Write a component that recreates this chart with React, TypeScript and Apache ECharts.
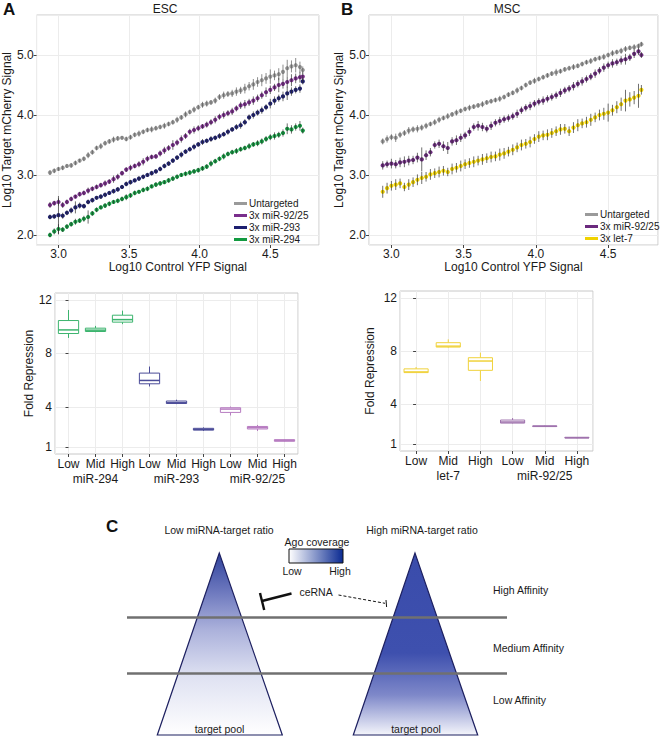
import React, { useEffect, useRef } from "react";
import * as echarts from "echarts";

const FONT = "'Liberation Sans Narrow', 'Arial Narrow', 'Liberation Sans', Arial, sans-serif";
const FONT_BOLD = "'Liberation Sans', Arial, sans-serif";

// ---------- Data: reporter scatter (log10 control YFP vs log10 target mCherry) ----------
const xVals = [
  2.94, 2.97, 3.0, 3.03, 3.06, 3.09, 3.12, 3.15, 3.18, 3.21,
  3.24, 3.27, 3.3, 3.33, 3.36, 3.39, 3.42, 3.45, 3.48, 3.51,
  3.54, 3.57, 3.6, 3.63, 3.66, 3.69, 3.72, 3.75, 3.78, 3.81,
  3.84, 3.87, 3.9, 3.93, 3.96, 3.99, 4.02, 4.05, 4.08, 4.11,
  4.14, 4.17, 4.2, 4.23, 4.26, 4.29, 4.32, 4.35, 4.38, 4.41,
  4.44, 4.47, 4.5, 4.53, 4.56, 4.59, 4.62, 4.65, 4.68, 4.71, 4.73,
];

// ESC
const escUntargeted = [
  3.04, 3.07, 3.1, 3.12, 3.15, 3.16, 3.2, 3.24, 3.27, 3.33,
  3.38, 3.45, 3.48, 3.53, 3.56, 3.59, 3.61, 3.62, 3.6, 3.63,
  3.67, 3.69, 3.72, 3.75, 3.76, 3.78, 3.8, 3.82, 3.85, 3.88,
  3.92, 3.96, 4.01, 4.05, 4.09, 4.13, 4.17, 4.19, 4.21, 4.24,
  4.3, 4.33, 4.35, 4.36, 4.39, 4.41, 4.44, 4.48, 4.51, 4.55,
  4.58, 4.61, 4.64, 4.66, 4.68, 4.72, 4.78, 4.81, 4.83, 4.8, 4.75,
];
const escUntargetedErr = [
  0.04, 0.04, 0.03, 0.04, 0.03, 0.04, 0.04, 0.03, 0.04, 0.05,
  0.04, 0.04, 0.05, 0.04, 0.04, 0.05, 0.04, 0.03, 0.04, 0.04,
  0.04, 0.05, 0.04, 0.04, 0.05, 0.04, 0.04, 0.05, 0.04, 0.04,
  0.05, 0.04, 0.05, 0.04, 0.05, 0.04, 0.05, 0.05, 0.04, 0.05,
  0.05, 0.06, 0.05, 0.06, 0.07, 0.06, 0.08, 0.07, 0.09, 0.08,
  0.1, 0.09, 0.12, 0.08, 0.1, 0.12, 0.14, 0.1, 0.12, 0.09, 0.06,
];
const escMir9225 = [
  2.5, 2.53, 2.55, 2.5, 2.55, 2.6, 2.64, 2.68, 2.7, 2.74,
  2.77, 2.8, 2.83, 2.86, 2.89, 2.93, 2.97, 3.03, 3.09, 3.12,
  3.15, 3.18, 3.22, 3.27, 3.3, 3.31, 3.36, 3.41, 3.45, 3.5,
  3.54, 3.6, 3.65, 3.72, 3.75, 3.78, 3.81, 3.84, 3.88, 3.92,
  3.97, 4.0, 4.03, 4.06, 4.11, 4.16, 4.18, 4.21, 4.24, 4.28,
  4.33, 4.38, 4.42, 4.46, 4.5, 4.52, 4.55, 4.58, 4.61, 4.63, 4.64,
];
const escMir9225Err = [
  0.05, 0.04, 0.06, 0.05, 0.04, 0.04, 0.03, 0.04, 0.04, 0.05,
  0.04, 0.04, 0.04, 0.05, 0.04, 0.06, 0.05, 0.04, 0.04, 0.05,
  0.04, 0.05, 0.06, 0.05, 0.04, 0.04, 0.05, 0.06, 0.05, 0.08,
  0.05, 0.06, 0.05, 0.05, 0.06, 0.05, 0.04, 0.05, 0.05, 0.06,
  0.05, 0.06, 0.05, 0.06, 0.05, 0.06, 0.07, 0.06, 0.07, 0.06,
  0.06, 0.08, 0.07, 0.06, 0.12, 0.08, 0.09, 0.1, 0.08, 0.09, 0.07,
];
const escMir293 = [
  2.3, 2.31, 2.33, 2.32, 2.37, 2.41, 2.46, 2.49, 2.48, 2.55,
  2.58, 2.62, 2.64, 2.67, 2.7, 2.73, 2.76, 2.8, 2.85, 2.88,
  2.91, 2.94, 2.97, 3.0, 3.03, 3.06, 3.1, 3.15, 3.19, 3.24,
  3.29, 3.34, 3.39, 3.43, 3.47, 3.51, 3.55, 3.57, 3.6, 3.62,
  3.65, 3.68, 3.72, 3.76, 3.8, 3.83, 3.88, 3.96, 4.0, 4.04,
  4.08, 4.13, 4.19, 4.24, 4.28, 4.31, 4.36, 4.39, 4.42, 4.44, 4.56,
];
const escMir293Err = [
  0.04, 0.04, 0.32, 0.05, 0.04, 0.05, 0.1, 0.05, 0.04, 0.04,
  0.04, 0.03, 0.04, 0.04, 0.03, 0.04, 0.04, 0.03, 0.04, 0.04,
  0.03, 0.04, 0.04, 0.03, 0.04, 0.04, 0.04, 0.04, 0.04, 0.04,
  0.04, 0.05, 0.04, 0.04, 0.05, 0.04, 0.05, 0.04, 0.05, 0.04,
  0.05, 0.04, 0.05, 0.04, 0.05, 0.06, 0.05, 0.05, 0.06, 0.05,
  0.06, 0.05, 0.08, 0.07, 0.06, 0.08, 0.11, 0.07, 0.06, 0.07, 0.05,
];
const escMir294 = [
  2.0, 2.06, 2.1, 2.09, 2.14, 2.18, 2.22, 2.24, 2.27, 2.3,
  2.36, 2.42, 2.46, 2.49, 2.52, 2.55, 2.57, 2.6, 2.63, 2.66,
  2.7, 2.72, 2.75, 2.77, 2.81, 2.84, 2.86, 2.88, 2.91, 2.94,
  2.97, 3.0, 3.02, 3.04, 3.06, 3.08, 3.11, 3.14, 3.19, 3.23,
  3.27, 3.31, 3.35, 3.38, 3.4, 3.43, 3.45, 3.48, 3.51, 3.53,
  3.56, 3.6, 3.63, 3.65, 3.67, 3.7, 3.77, 3.76, 3.8, 3.82, 3.74,
];
const escMir294Err = [
  0.04, 0.05, 0.08, 0.04, 0.04, 0.04, 0.05, 0.04, 0.05, 0.11,
  0.04, 0.04, 0.03, 0.04, 0.04, 0.03, 0.04, 0.04, 0.05, 0.04,
  0.04, 0.03, 0.04, 0.04, 0.03, 0.04, 0.04, 0.03, 0.04, 0.04,
  0.04, 0.03, 0.04, 0.04, 0.04, 0.04, 0.04, 0.04, 0.05, 0.04,
  0.04, 0.05, 0.04, 0.04, 0.05, 0.04, 0.04, 0.05, 0.04, 0.05,
  0.05, 0.05, 0.05, 0.06, 0.05, 0.06, 0.09, 0.07, 0.06, 0.08, 0.05,
];

// MSC
const mscUntargeted = [
  3.56, 3.6, 3.63, 3.62, 3.67, 3.7, 3.74, 3.76, 3.77, 3.79,
  3.82, 3.85, 3.88, 3.92, 3.95, 3.98, 4.01, 4.04, 4.07, 4.1,
  4.12, 4.14, 4.16, 4.18, 4.21, 4.23, 4.25, 4.27, 4.3, 4.34,
  4.37, 4.41, 4.45, 4.5, 4.54, 4.57, 4.6, 4.63, 4.66, 4.69,
  4.71, 4.73, 4.76, 4.78, 4.8, 4.82, 4.85, 4.88, 4.9, 4.93,
  4.95, 4.97, 5.0, 5.03, 5.05, 5.07, 5.1, 5.12, 5.13, 5.15, 5.18,
];
const mscUntargetedErr = [
  0.05, 0.06, 0.05, 0.07, 0.05, 0.05, 0.06, 0.05, 0.06, 0.05,
  0.05, 0.04, 0.05, 0.05, 0.04, 0.05, 0.04, 0.05, 0.04, 0.04,
  0.05, 0.04, 0.04, 0.05, 0.04, 0.04, 0.04, 0.05, 0.04, 0.04,
  0.04, 0.05, 0.04, 0.04, 0.04, 0.05, 0.04, 0.04, 0.04, 0.04,
  0.06, 0.04, 0.04, 0.04, 0.05, 0.04, 0.04, 0.04, 0.05, 0.04,
  0.04, 0.05, 0.04, 0.05, 0.04, 0.05, 0.05, 0.04, 0.05, 0.04, 0.04,
];
const mscMir9225 = [
  3.16, 3.18, 3.19, 3.18, 3.21, 3.22, 3.24, 3.25, 3.29, 3.26,
  3.33, 3.38, 3.5, 3.52, 3.48, 3.45, 3.56, 3.58, 3.62, 3.66,
  3.72, 3.8, 3.82, 3.8, 3.77, 3.82, 3.87, 3.9, 3.93, 3.95,
  3.98, 4.02, 4.08, 4.12, 4.15, 4.19, 4.22, 4.24, 4.27, 4.3,
  4.33, 4.37, 4.41, 4.44, 4.48, 4.52, 4.56, 4.6, 4.64, 4.69,
  4.74, 4.79, 4.83, 4.86, 4.88, 4.91, 4.93, 4.96, 5.02, 5.06, 5.0,
];
const mscMir9225Err = [
  0.07, 0.06, 0.08, 0.07, 0.08, 0.09, 0.08, 0.07, 0.08, 0.2,
  0.08, 0.07, 0.06, 0.07, 0.08, 0.1, 0.07, 0.08, 0.07, 0.06,
  0.07, 0.06, 0.08, 0.07, 0.06, 0.07, 0.06, 0.07, 0.06, 0.06,
  0.06, 0.07, 0.06, 0.06, 0.07, 0.06, 0.06, 0.07, 0.06, 0.06,
  0.06, 0.07, 0.06, 0.06, 0.07, 0.06, 0.07, 0.06, 0.06, 0.07,
  0.06, 0.07, 0.06, 0.07, 0.06, 0.07, 0.09, 0.06, 0.07, 0.06, 0.05,
];
const mscLet7 = [
  2.72, 2.78, 2.82, 2.84, 2.86, 2.8, 2.84, 2.88, 2.92, 2.95,
  2.97, 3.01, 3.03, 3.05, 3.07, 3.05, 3.1, 3.12, 3.15, 3.18,
  3.2, 3.22, 3.24, 3.26, 3.28, 3.3, 3.31, 3.34, 3.36, 3.39,
  3.42, 3.46, 3.5, 3.52, 3.55, 3.6, 3.64, 3.66, 3.67, 3.7,
  3.73, 3.76, 3.77, 3.73, 3.79, 3.83, 3.86, 3.88, 3.92, 3.96,
  4.0, 4.02, 4.04, 4.08, 4.13, 4.18, 4.24, 4.26, 4.29, 4.32, 4.42,
];
const mscLet7Err = [
  0.1, 0.09, 0.08, 0.09, 0.08, 0.07, 0.09, 0.08, 0.09, 0.1,
  0.08, 0.09, 0.08, 0.09, 0.08, 0.07, 0.09, 0.08, 0.09, 0.08,
  0.08, 0.09, 0.08, 0.09, 0.08, 0.09, 0.08, 0.1, 0.09, 0.08,
  0.09, 0.08, 0.09, 0.08, 0.09, 0.08, 0.09, 0.08, 0.09, 0.08,
  0.08, 0.09, 0.08, 0.08, 0.09, 0.1, 0.08, 0.09, 0.1, 0.08,
  0.09, 0.1, 0.15, 0.09, 0.1, 0.11, 0.18, 0.12, 0.11, 0.2, 0.08,
];

// ---------- Data: fold repression boxplots [min, Q1, median, Q3, max] ----------
const boxLevels = ["Low", "Mid", "High"];
const escGroups = ["miR-294", "miR-293", "miR-92/25"];
const mscGroups = ["let-7", "miR-92/25"];
const escBoxes = [
  [9.16, 9.49, 9.76, 10.46, 11.25],
  [9.59, 9.64, 9.74, 9.89, 10.06],
  [10.19, 10.34, 10.53, 10.86, 11.2],
  [5.53, 5.73, 5.98, 6.53, 7.02],
  [4.21, 4.26, 4.31, 4.44, 4.54],
  [2.2, 2.27, 2.32, 2.4, 2.47],
  [3.36, 3.59, 3.84, 3.94, 4.03],
  [2.2, 2.35, 2.45, 2.54, 2.65],
  [1.38, 1.43, 1.5, 1.55, 1.6],
];
const mscBoxes = [
  [6.35, 6.38, 6.43, 6.66, 6.8],
  [8.25, 8.3, 8.37, 8.63, 8.88],
  [5.75, 6.55, 7.25, 7.5, 7.88],
  [2.55, 2.58, 2.66, 2.81, 2.96],
  [2.3, 2.32, 2.34, 2.37, 2.4],
  [1.44, 1.46, 1.48, 1.51, 1.53],
];
const foldTicks = [1, 4, 8, 12];

// ---------- Styles ----------
const C_GRAY = "#9a9a9a";
const C_PURPLE = "#7a2e8c";
const C_NAVY = "#1d1f70";
const C_GREEN = "#129a40";
const C_YELLOW = "#f0d200";
const C_MSC_PURPLE = "#6b2a7e";
const escGroupColors = ["#3cb46e", "#4b4c98", "#b77cc1"];
const mscGroupColors = ["#f0d23c", "#9f72ad"];

const GRID_LINE = "#ececec";

function App() {
  const ref = useRef<HTMLDivElement>(null);

  useEffect(() => {
    if (!ref.current) return;
    const chart = echarts.init(ref.current, undefined, { renderer: "svg" });

    const axisLabelStyle = { color: "#1a1a1a", fontSize: 12, fontFamily: FONT };
    const nameStyle = { color: "#1a1a1a", fontSize: 12, fontFamily: FONT };

    const fmt1 = (v: number) => (Math.abs(v * 2 - Math.round(v * 2)) < 1e-6 ? v.toFixed(1) : "");
    const fmtInt1 = (v: number) => (Math.abs(v - Math.round(v)) < 1e-6 ? v.toFixed(1) : "");

    const scatterX = (gridIndex: number) => ({
      type: "value",
      gridIndex,
      min: 2.845,
      max: 4.845,
      minInterval: 0.5,
      maxInterval: 0.5,
      name: "Log10 Control YFP Signal",
      nameLocation: "middle",
      nameGap: 16,
      nameTextStyle: nameStyle,
      axisLine: { show: false },
      axisTick: { show: true, length: 3, lineStyle: { color: "#444" } },
      axisLabel: { ...axisLabelStyle, margin: 3, formatter: fmt1, showMinLabel: false, showMaxLabel: false },
      splitLine: { show: true, lineStyle: { color: GRID_LINE, width: 1 } },
    });
    const scatterY = (gridIndex: number) => ({
      type: "value",
      gridIndex,
      min: 1.833,
      max: 5.667,
      minInterval: 1,
      maxInterval: 1,
      name: "Log10 Target mCherry Signal",
      nameLocation: "middle",
      nameGap: 23,
      nameTextStyle: nameStyle,
      axisLine: { show: false },
      axisTick: { show: true, length: 3, lineStyle: { color: "#444" } },
      axisLabel: { ...axisLabelStyle, margin: 3, formatter: fmtInt1, showMinLabel: false, showMaxLabel: false },
      splitLine: { show: true, lineStyle: { color: GRID_LINE, width: 1 } },
    });
    const boxX = (gridIndex: number, n: number) => ({
      type: "value",
      gridIndex,
      min: -0.5,
      max: n - 0.5,
      minInterval: 1,
      maxInterval: 1,
      axisLine: { show: false },
      axisTick: { show: true, length: 3, lineStyle: { color: "#444" } },
      axisLabel: {
        ...axisLabelStyle,
        margin: 4,
        showMinLabel: false,
        showMaxLabel: false,
        formatter: (v: number) =>
          Math.abs(v - Math.round(v)) < 1e-6 && v >= 0 ? boxLevels[Math.round(v) % 3] : "",
      },
      splitLine: { show: true, lineStyle: { color: GRID_LINE, width: 1 } },
    });
    const groupX = (gridIndex: number, groups: string[]) => ({
      type: "category",
      gridIndex,
      data: groups,
      position: "bottom",
      offset: 15,
      axisLine: { show: false },
      axisTick: { show: false },
      splitLine: { show: false },
      axisLabel: { ...axisLabelStyle, margin: 4 },
    });
    const boxY = (gridIndex: number, nameGap: number) => ({
      type: "value",
      gridIndex,
      min: 0.48,
      max: 12.52,
      name: "Fold Repression",
      nameLocation: "middle",
      nameGap,
      nameTextStyle: nameStyle,
      axisLine: { show: false },
      axisTick: { show: true, length: 3, customValues: foldTicks, lineStyle: { color: "#444" } },
      axisLabel: { ...axisLabelStyle, margin: 3, customValues: foldTicks },
      splitLine: { show: true, lineStyle: { color: GRID_LINE, width: 1 } },
    });

    const points = (name: string, ys: number[], color: string, xi: number, yi: number) => ({
      type: "scatter",
      name,
      xAxisIndex: xi,
      yAxisIndex: yi,
      data: xVals.map((x, i) => [x, ys[i]]),
      symbolSize: 4.2,
      itemStyle: { color, opacity: 1 },
      silent: true,
      z: 2,
    });
    const errors = (ys: number[], errs: number[], xi: number, yi: number, stroke: string) => ({
      type: "custom",
      xAxisIndex: xi,
      yAxisIndex: yi,
      silent: true,
      z: 3,
      encode: { x: 0, y: [1, 2] },
      data: xVals.map((x, i) => [x, ys[i] - errs[i], ys[i] + errs[i]]),
      renderItem: (_p: any, api: any) => {
        const x = api.value(0);
        const a = api.coord([x, api.value(1)]);
        const b = api.coord([x, api.value(2)]);
        return {
          type: "line",
          shape: { x1: a[0], y1: a[1], x2: b[0], y2: b[1] },
          style: { stroke, lineWidth: 0.8, opacity: 0.85 },
        };
      },
    });
    const boxes = (data: number[][], colors: string[], xi: number, yi: number) => ({
      type: "custom",
      xAxisIndex: xi,
      yAxisIndex: yi,
      silent: true,
      z: 3,
      encode: { x: 0, y: [1, 2, 3, 4, 5] },
      data: data.map((b, i) => ({ value: [i, ...b], itemStyle: { color: colors[Math.floor(i / 3)] } })),
      renderItem: (_p: any, api: any) => {
        const i = api.value(0);
        const pMin = api.coord([i, api.value(1)]);
        const pQ1 = api.coord([i, api.value(2)]);
        const pMed = api.coord([i, api.value(3)]);
        const pQ3 = api.coord([i, api.value(4)]);
        const pMax = api.coord([i, api.value(5)]);
        const w = api.size([1, 0])[0] * 0.75;
        const cx = pMed[0];
        const color = api.visual("color");
        return {
          type: "group",
          children: [
            { type: "line", shape: { x1: cx, y1: pMax[1], x2: cx, y2: pQ3[1] }, style: { stroke: color, lineWidth: 1 } },
            { type: "line", shape: { x1: cx, y1: pQ1[1], x2: cx, y2: pMin[1] }, style: { stroke: color, lineWidth: 1 } },
            {
              type: "rect",
              shape: { x: cx - w / 2, y: pQ3[1], width: w, height: Math.max(pQ1[1] - pQ3[1], 0.5) },
              style: { fill: "#ffffff", stroke: color, lineWidth: 1 },
            },
            {
              type: "line",
              shape: { x1: cx - w / 2, y1: pMed[1], x2: cx + w / 2, y2: pMed[1] },
              style: { stroke: color, lineWidth: 1.5 },
            },
          ],
        };
      },
    });

    const txt = (text: string, x: number, y: number, fontSize: number, align = "center", extra: any = {}) => ({
      type: "text",
      x,
      y,
      silent: true,
      style: {
        text,
        fontSize,
        fontFamily: FONT,
        fill: "#1a1a1a",
        align,
        verticalAlign: "middle",
        ...extra,
      },
    });

    const leftTriGrad = new echarts.graphic.LinearGradient(0, 0, 0, 1, [
      { offset: 0, color: "#2f429c" },
      { offset: 0.22, color: "#6f7abf" },
      { offset: 0.42, color: "#abb1db" },
      { offset: 0.68, color: "#dfe2f2" },
      { offset: 1, color: "#ffffff" },
    ]);
    const rightTriGrad = new echarts.graphic.LinearGradient(0, 0, 0, 1, [
      { offset: 0, color: "#3a4cab" },
      { offset: 0.55, color: "#3e50ae" },
      { offset: 0.78, color: "#7e88c9" },
      { offset: 1, color: "#f4f5fb" },
    ]);
    const barGrad = new echarts.graphic.LinearGradient(0, 0, 1, 0, [
      { offset: 0, color: "#ffffff" },
      { offset: 1, color: "#0a2a92" },
    ]);

    const legendText = { fontSize: 10, color: "#1a1a1a", fontFamily: FONT, lineHeight: 11, padding: [0, 0, 0, -3] };

    const option: any = {
      animation: false,
      backgroundColor: "#ffffff",
      textStyle: { fontFamily: FONT },
      grid: [
        { left: 31, top: 15, width: 288, height: 230, show: true, borderColor: "#c8c8c8", borderWidth: 1, backgroundColor: "transparent" },
        { left: 369, top: 15, width: 289, height: 230, show: true, borderColor: "#c8c8c8", borderWidth: 1, backgroundColor: "transparent" },
        { left: 55, top: 293, width: 243, height: 161, show: true, borderColor: "#c8c8c8", borderWidth: 1, backgroundColor: "transparent" },
        { left: 400, top: 291, width: 193, height: 160, show: true, borderColor: "#c8c8c8", borderWidth: 1, backgroundColor: "transparent" },
      ],
      xAxis: [
        scatterX(0),
        scatterX(1),
        boxX(2, escBoxes.length),
        groupX(2, escGroups),
        boxX(3, mscBoxes.length),
        groupX(3, mscGroups),
      ],
      yAxis: [scatterY(0), scatterY(1), boxY(2, 19), boxY(3, 24)],
      legend: [
        {
          left: 229,
          top: 193,
          orient: "vertical",
          icon: "rect",
          itemWidth: 13,
          itemHeight: 3,
          itemGap: 1,
          selectedMode: false,
          textStyle: legendText,
          data: [
            { name: "Untargeted", itemStyle: { color: C_GRAY } },
            { name: "3x miR-92/25", itemStyle: { color: C_PURPLE } },
            { name: "3x miR-293", itemStyle: { color: C_NAVY } },
            { name: "3x miR-294", itemStyle: { color: C_GREEN } },
          ],
        },
        {
          left: 580,
          top: 204,
          orient: "vertical",
          icon: "rect",
          itemWidth: 13,
          itemHeight: 3,
          itemGap: 1,
          selectedMode: false,
          textStyle: legendText,
          data: [
            { name: "Untargeted", itemStyle: { color: C_GRAY } },
            { name: "3x miR-92/25", itemStyle: { color: C_MSC_PURPLE } },
            { name: "3x let-7", itemStyle: { color: C_YELLOW } },
          ],
        },
      ],
      series: [
        points("Untargeted", escUntargeted, C_GRAY, 0, 0),
        points("3x miR-92/25", escMir9225, C_PURPLE, 0, 0),
        points("3x miR-293", escMir293, C_NAVY, 0, 0),
        points("3x miR-294", escMir294, C_GREEN, 0, 0),
        errors(escUntargeted, escUntargetedErr, 0, 0, "#555555"),
        errors(escMir9225, escMir9225Err, 0, 0, "#2a2a2a"),
        errors(escMir293, escMir293Err, 0, 0, "#2a2a2a"),
        errors(escMir294, escMir294Err, 0, 0, "#2a2a2a"),
        points("Untargeted", mscUntargeted, C_GRAY, 1, 1),
        points("3x miR-92/25", mscMir9225, C_MSC_PURPLE, 1, 1),
        points("3x let-7", mscLet7, C_YELLOW, 1, 1),
        errors(mscUntargeted, mscUntargetedErr, 1, 1, "#555555"),
        errors(mscMir9225, mscMir9225Err, 1, 1, "#2a2a2a"),
        errors(mscLet7, mscLet7Err, 1, 1, "#2a2a2a"),
        boxes(escBoxes, escGroupColors, 2, 2),
        boxes(mscBoxes, mscGroupColors, 4, 3),
      ],
      graphic: [
        // panel letters and titles
        { type: "text", x: 3, y: 1, silent: true, style: { text: "A", fontSize: 17, fontWeight: "bold", fontFamily: FONT_BOLD, fill: "#111" } },
        { type: "text", x: 341, y: 1, silent: true, style: { text: "B", fontSize: 17, fontWeight: "bold", fontFamily: FONT_BOLD, fill: "#111" } },
        txt("ESC", 165, 9, 12),
        txt("MSC", 507, 9, 12),
        // panel C
        { type: "text", x: 106, y: 518, silent: true, style: { text: "C", fontSize: 17, fontWeight: "bold", fontFamily: FONT_BOLD, fill: "#111" } },
        txt("Low miRNA-target ratio", 219, 530, 10.5),
        txt("High miRNA-target ratio", 422, 530, 10.5),
        {
          type: "polygon",
          silent: true,
          shape: { points: [[219.3, 553], [157.3, 735], [282.3, 735]] },
          style: { fill: leftTriGrad, stroke: "#1d2060", lineWidth: 1.2 },
        },
        {
          type: "polygon",
          silent: true,
          shape: { points: [[415, 553], [353.3, 735], [477.7, 735]] },
          style: { fill: rightTriGrad, stroke: "#1d2060", lineWidth: 1.2 },
        },
        { type: "line", silent: true, shape: { x1: 127, y1: 617.5, x2: 507, y2: 617.5 }, style: { stroke: "#707070", lineWidth: 2.6 } },
        { type: "line", silent: true, shape: { x1: 127, y1: 673.5, x2: 507, y2: 673.5 }, style: { stroke: "#707070", lineWidth: 2.6 } },
        txt("Ago coverage", 317, 542, 10.5),
        {
          type: "rect",
          silent: true,
          shape: { x: 289, y: 549, width: 54, height: 14 },
          style: { fill: barGrad, stroke: "#111", lineWidth: 1 },
        },
        txt("Low", 292, 571, 10.5),
        txt("High", 340, 571, 10.5),
        txt("ceRNA", 316, 592, 10.5),
        { type: "line", silent: true, shape: { x1: 291.5, y1: 593.5, x2: 262, y2: 601 }, style: { stroke: "#111", lineWidth: 2.4 } },
        { type: "line", silent: true, shape: { x1: 260, y1: 593, x2: 264.2, y2: 610 }, style: { stroke: "#111", lineWidth: 2.4 } },
        {
          type: "line",
          silent: true,
          shape: { x1: 338.5, y1: 595, x2: 385, y2: 603.3 },
          style: { stroke: "#111", lineWidth: 1, lineDash: [3, 2] },
        },
        { type: "line", silent: true, shape: { x1: 386, y1: 600, x2: 386.6, y2: 607 }, style: { stroke: "#111", lineWidth: 1 } },
        txt("High Affinity", 493, 590, 10.5, "left"),
        txt("Medium Affinity", 493, 648, 10.5, "left"),
        txt("Low Affinity", 493, 700, 10.5, "left"),
        txt("target pool", 219.5, 729, 10.5),
        txt("target pool", 416, 729, 10.5),
      ],
    };

    chart.setOption(option);
    return () => {
      chart.dispose();
    };
  }, []);

  return (
    <div
      ref={ref}
      style={{ position: "fixed", left: 0, top: 0, width: 660, height: 737, background: "#fff" }}
    />
  );
}

export default App;
